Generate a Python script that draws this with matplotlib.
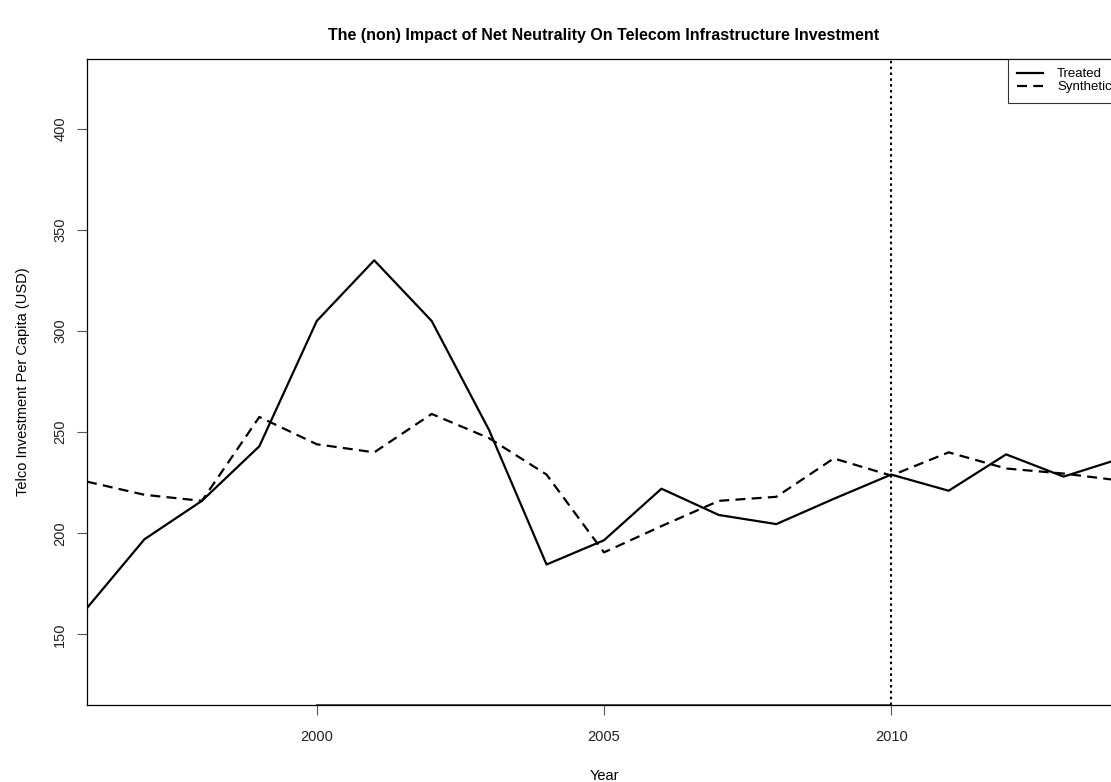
import numpy as np
import matplotlib
matplotlib.use("Agg")
import matplotlib.pyplot as plt

plt.rcParams["font.family"] = ["Liberation Sans", "DejaVu Sans"]

# Telco investment per capita, treated unit vs synthetic control
years = np.arange(1996, 2015)
treated = [163, 197, 216, 243, 305, 335, 305, 251, 184.5, 196.5,
           222, 209, 204.5, 217, 229, 221, 239, 228, 237]
synthetic = [225.5, 219, 216, 257.5, 244, 240, 259, 247, 229, 190.5,
             203.5, 216, 218, 237, 228.5, 240, 232, 229.5, 226]
treatment_year = 2010
x_ticks = [2000, 2005, 2010]
y_ticks = [150, 200, 250, 300, 350, 400]

fig = plt.figure(figsize=(11.11, 7.82), dpi=100)
# plot region runs a little past the right edge of the canvas
ax = fig.add_axes([87 / 1111, 1 - 705 / 782, 1034 / 1111, 646 / 782])

ax.plot(years, treated, color="black", lw=1.6, label="Treated")
ax.plot(years, synthetic, color="black", lw=1.6, ls=(0, (4.5, 2.8)),
        label="Synthetic")
ax.axvline(treatment_year, color="black", lw=1.5, ls=(0, (1.2, 1.6)))

ax.set_xlim(years[0], years[-1])
ax.set_ylim(115, 434.6)
ax.set_xticks(x_ticks)
ax.set_yticks(y_ticks)
ax.set_yticklabels([str(v) for v in y_ticks], rotation=90, va="center")
ax.tick_params(direction="out", length=7.2, width=0.8, colors="#555555",
               labelcolor="#222222", labelsize=10.5)
ax.tick_params(axis="x", pad=11)
ax.tick_params(axis="y", pad=7)

for side in ax.spines.values():
    side.set_color("black")
    side.set_linewidth(0.9)

# axis line under the x ticks
ax.plot([x_ticks[0], x_ticks[-1]], [115, 115], color="#555555", lw=1.4,
        clip_on=False, zorder=1)

ax.set_xlabel("Year", fontsize=10.5, labelpad=18)
ax.set_ylabel("Telco Investment Per Capita (USD)", fontsize=10.5, labelpad=17)
ax.set_title("The (non) Impact of Net Neutrality On Telecom Infrastructure Investment",
             fontsize=11.5, fontweight="bold", pad=14)

leg = ax.legend(loc="upper right", fontsize=9.5, frameon=True, fancybox=False,
                borderaxespad=0, handlelength=1.9, handletextpad=1.1,
                labelspacing=0.05, borderpad=0.7)
leg.get_frame().set_edgecolor("black")
leg.get_frame().set_linewidth(0.8)

fig.savefig("out.png", dpi=100)
